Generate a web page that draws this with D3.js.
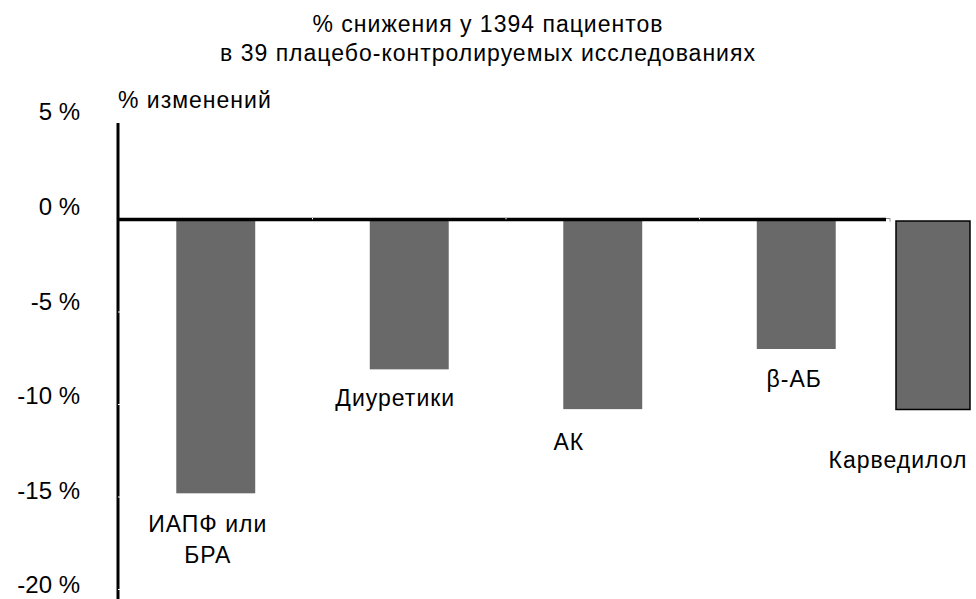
<!DOCTYPE html>
<html>
<head>
<meta charset="utf-8">
<script src="https://cdn.jsdelivr.net/npm/d3@7"></script>
<style>
  html, body { margin: 0; padding: 0; background: #fff; }
  svg { display: block; font-family: "Liberation Sans", Arial, Helvetica, sans-serif; }
</style>
</head>
<body>
<svg id="chart" width="976" height="599"></svg>
<script>
// ---- data ----
const categories = ["ИАПФ или БРА", "Диуретики", "АК", "β-АБ"];
const values = [-14.8, -8.1, -10.25, -7.0];
const extraCategory = ["Карведилол"];
const extraValues = [-10.27];
const tickValues = [5, 0, -5, -10, -15, -20];
const tickLabels = ["5 %", "0 %", "-5 %", "-10 %", "-15 %", "-20 %"];
const titleLines = ["% снижения у 1394 пациентов", "в 39 плацебо-контролируемых исследованиях"];
const yAxisTitle = "% изменений";
const labelLines = [["ИАПФ или", "БРА"], ["Диуретики"], ["АК"], ["β-АБ"]];

// ---- layout (not data) ----
const labelDx = [-8, -14, -34, -2];
const labelDy = [39, 37, 41, 38];
const extraLabelDx = [-35];
const extraLabelDy = [59];

const svg = d3.select("#chart");
const fontSize = 23;
const ls = "1px";

const y = d3.scaleLinear().domain([5, -20]).range([127, 589.5]);
const yLabel = d3.scaleLinear().domain([5, -20]).range([112, 585]);
const x = d3.scaleBand().domain(categories).range([119, 893]).paddingInner(0.592).paddingOuter(0.296);
const x2 = d3.scaleBand().domain(extraCategory).range([893, 973]).paddingInner(0.075).paddingOuter(0.0375);

// title
svg.append("g").selectAll("text").data(titleLines).join("text")
  .attr("x", 488).attr("y", (d, i) => 32 + i * 29)
  .attr("text-anchor", "middle").attr("font-size", fontSize).attr("fill", "#000")
  .attr("letter-spacing", ls)
  .text(d => d);

// y-axis title
svg.append("text").attr("x", 118).attr("y", 108)
  .attr("font-size", fontSize).attr("fill", "#000").attr("letter-spacing", ls).text(yAxisTitle);

// tick labels
svg.append("g").selectAll("text").data(tickValues).join("text")
  .attr("x", 80).attr("y", d => yLabel(d))
  .attr("dy", "0.35em").attr("text-anchor", "end")
  .attr("font-size", 24).attr("fill", "#000")
  .text((d, i) => tickLabels[i]);

// bars
svg.append("g").selectAll("rect").data(values).join("rect")
  .attr("x", (d, i) => x(categories[i]))
  .attr("width", x.bandwidth())
  .attr("y", d => y(Math.max(0, d)))
  .attr("height", d => Math.abs(y(d) - y(0)))
  .attr("fill", "#696969");

svg.append("g").selectAll("rect").data(extraValues).join("rect")
  .attr("x", (d, i) => x2(extraCategory[i]))
  .attr("width", x2.bandwidth())
  .attr("y", d => y(0) + 1.5)
  .attr("height", d => Math.abs(y(d) - y(0)) - 1.5)
  .attr("fill", "#696969").attr("stroke", "#000").attr("stroke-width", 1.5);

// axes lines
svg.append("line").attr("x1", 118).attr("x2", 118).attr("y1", 123).attr("y2", 599)
  .attr("stroke", "#000").attr("stroke-width", 3);
svg.append("line").attr("x1", 117).attr("x2", 886).attr("y1", y(0)).attr("y2", y(0))
  .attr("stroke", "#000").attr("stroke-width", 3.5);
svg.append("line").attr("x1", 886).attr("x2", 890).attr("y1", y(0) - 1).attr("y2", y(0) - 1)
  .attr("stroke", "#888").attr("stroke-width", 1);
svg.append("line").attr("x1", 890).attr("x2", 890).attr("y1", y(0) - 1).attr("y2", y(0) + 2)
  .attr("stroke", "#888").attr("stroke-width", 1);

// white tick notches on y-axis
svg.append("g").selectAll("line").data(tickValues.filter(v => v < 0)).join("line")
  .attr("x1", 118).attr("x2", 120).attr("y1", d => y(d)).attr("y2", d => y(d))
  .attr("stroke", "#fff").attr("stroke-width", 1);
// white notches on zero line at category boundaries
const bounds = categories.slice(1).map(c => x(c) - x.step() * 0.296);
svg.append("g").selectAll("line").data(bounds).join("line")
  .attr("x1", d => d).attr("x2", d => d).attr("y1", y(0) - 1.5).attr("y2", y(0) - 0.2)
  .attr("stroke", "#fff").attr("stroke-width", 1);

// category labels
const lg = svg.append("g");
categories.forEach((c, i) => {
  const t = lg.append("text")
    .attr("x", x(c) + x.bandwidth() / 2 + labelDx[i])
    .attr("y", y(values[i]) + labelDy[i])
    .attr("text-anchor", "middle").attr("font-size", fontSize).attr("fill", "#000")
    .attr("letter-spacing", ls);
  labelLines[i].forEach((line, j) => {
    t.append("tspan").attr("x", x(c) + x.bandwidth() / 2 + labelDx[i])
      .attr("dy", j === 0 ? 0 : 31).text(line);
  });
});
extraCategory.forEach((c, i) => {
  lg.append("text")
    .attr("x", x2(c) + x2.bandwidth() / 2 + extraLabelDx[i])
    .attr("y", y(extraValues[i]) + extraLabelDy[i])
    .attr("text-anchor", "middle").attr("font-size", fontSize).attr("fill", "#000")
    .attr("letter-spacing", ls)
    .text(c);
});
</script>
</body>
</html>
